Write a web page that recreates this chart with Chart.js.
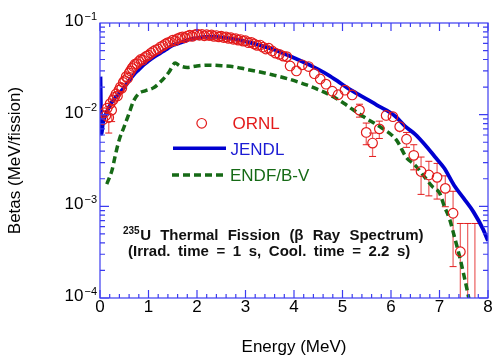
<!DOCTYPE html>
<html>
<head>
<meta charset="utf-8">
<script src="https://cdn.jsdelivr.net/npm/chart.js@4.4.0/dist/chart.umd.min.js"></script>
<style>
  html, body { margin: 0; padding: 0; background: #fff; }
  #wrap { width: 494px; height: 356px; }
</style>
</head>
<body>
<div id="wrap"><canvas id="betaChart" width="494" height="356"></canvas></div>
<script>
// ORNL measurement: energy (MeV), betas (MeV/fission), 1 sigma
var ornlEnergy = [0.06, 0.09, 0.12, 0.15, 0.18, 0.21, 0.24, 0.27, 0.30, 0.33, 0.36, 0.39, 0.42, 0.45, 0.48, 0.51, 0.54, 0.57, 0.60, 0.63,
  0.66, 0.69, 0.72, 0.76, 0.80, 0.84, 0.88, 0.92, 0.96, 1.00, 1.05, 1.10, 1.15, 1.20, 1.25, 1.30, 1.35, 1.40, 1.45, 1.50,
  1.55, 1.60, 1.65, 1.70, 1.75, 1.80, 1.85, 1.90, 1.95, 2.00, 2.05, 2.10, 2.15, 2.20, 2.25, 2.30, 2.35, 2.40, 2.45, 2.50,
  2.55, 2.60, 2.65, 2.70, 2.75, 2.80, 2.85, 2.90, 2.95, 3.00, 3.06, 3.12, 3.18, 3.24, 3.30, 3.36, 3.42, 3.48, 3.55, 3.62,
  3.70, 3.78, 3.85, 3.92, 4.05, 4.17, 4.30, 4.42, 4.54, 4.66, 4.79, 4.91, 5.05, 5.20, 5.35, 5.49, 5.62, 5.76, 5.90, 6.04,
  6.18, 6.32, 6.47, 6.62, 6.78, 6.95, 7.12, 7.28, 7.43, 7.58, 7.73];
var ornlValue = [0.0088, 0.0105, 0.0098, 0.0118, 0.0093, 0.0132, 0.0112, 0.0145, 0.0155, 0.0168, 0.0160, 0.0185, 0.0200, 0.0195, 0.0225, 0.0235, 0.0260, 0.0250, 0.0285, 0.0300,
  0.0320, 0.0335, 0.0355, 0.0360, 0.0380, 0.0400, 0.0395, 0.0420, 0.0435, 0.0445, 0.0470, 0.0490, 0.0510, 0.0520, 0.0550, 0.0565, 0.0590, 0.0610, 0.0620, 0.0650,
  0.0640, 0.0675, 0.0690, 0.0705, 0.0690, 0.0720, 0.0735, 0.0715, 0.0740, 0.0755, 0.0735, 0.0750, 0.0725, 0.0745, 0.0730, 0.0740, 0.0715, 0.0730, 0.0705, 0.0720,
  0.0695, 0.0705, 0.0680, 0.0690, 0.0665, 0.0675, 0.0650, 0.0660, 0.0635, 0.0640, 0.0610, 0.0615, 0.0590, 0.0570, 0.0575, 0.0545, 0.0520, 0.0530, 0.0495, 0.0470,
  0.0455, 0.0435, 0.0430, 0.0340, 0.0300, 0.0350, 0.0335, 0.0280, 0.0245, 0.0215, 0.0180, 0.0165, 0.0185, 0.0164, 0.0112, 0.0064, 0.0049, 0.0070, 0.0098, 0.0095,
  0.0074, 0.0054, 0.0036, 0.0024, 0.0022, 0.00207, 0.00157, 0.00084, 0.00032, 0.00005, 0.00004];
var ornlError = [0.0008, 0.0010, 0.0012, 0.0012, 0.0030, 0.0012, 0.0028, 0.0012, 0.0012, 0.0012, 0.0012, 0.0012, 0.0012, 0.0012, 0.0012, 0.0012, 0.0012, 0.0012, 0.0012, 0.0012,
  0.0012, 0.0012, 0.0012, 0.0012, 0.0012, 0.0012, 0.0012, 0.0012, 0.0012, 0.0012, 0.0012, 0.0012, 0.0012, 0.0012, 0.0012, 0.0012, 0.0012, 0.0012, 0.0012, 0.0012,
  0.0012, 0.0012, 0.0012, 0.0012, 0.0012, 0.0012, 0.0012, 0.0012, 0.0012, 0.0012, 0.0012, 0.0012, 0.0012, 0.0012, 0.0012, 0.0012, 0.0012, 0.0012, 0.0012, 0.0012,
  0.0012, 0.0012, 0.0012, 0.0012, 0.0012, 0.0012, 0.0012, 0.0012, 0.0012, 0.0012, 0.0012, 0.0012, 0.0012, 0.0012, 0.0012, 0.0012, 0.0012, 0.0012, 0.0012, 0.0012,
  0.0012, 0.0012, 0.0015, 0.0020, 0.0020, 0.0018, 0.0018, 0.0018, 0.0017, 0.0016, 0.0015, 0.0015, 0.0016, 0.0016, 0.0018, 0.0017, 0.0014, 0.0015, 0.0012, 0.0012,
  0.0010, 0.0010, 0.0011, 0.00105, 0.0009, 0.00087, 0.00058, 0.00062, 0.00033, 0.0006, 0.00061];

// JENDL summation
var jendlEnergy = [0.01, 0.03, 0.06, 0.10, 0.20, 0.30, 0.40, 0.50, 0.60, 0.70, 0.80, 0.90, 1.00, 1.10, 1.20, 1.30, 1.40, 1.50, 1.60, 1.70,
  1.80, 1.90, 2.00, 2.10, 2.20, 2.30, 2.40, 2.50, 2.70, 2.90, 3.10, 3.30, 3.50, 3.70, 3.90, 4.10, 4.30, 4.50, 4.70, 4.90,
  5.10, 5.30, 5.50, 5.70, 5.90, 6.10, 6.30, 6.50, 6.70, 6.90, 7.10, 7.30, 7.50, 7.70, 7.90, 8.00];
var jendlValue = [0.026, 0.0062, 0.0080, 0.0095, 0.0125, 0.0150, 0.0172, 0.0198, 0.0235, 0.0275, 0.0310, 0.0350, 0.0385, 0.0420, 0.0455, 0.0490, 0.0530, 0.0570, 0.0595, 0.0620,
  0.0650, 0.0670, 0.0685, 0.0700, 0.0705, 0.0708, 0.0705, 0.0698, 0.0675, 0.0648, 0.0610, 0.0570, 0.0530, 0.0487, 0.0440, 0.0395, 0.0352, 0.0312, 0.0272, 0.0232,
  0.0196, 0.0170, 0.0148, 0.0128, 0.0112, 0.0095, 0.0074, 0.0061, 0.0047, 0.0035, 0.0026, 0.0017, 0.00122, 0.00087, 0.00056, 0.00042];

// ENDF/B-V summation
var endfEnergy = [0.14, 0.20, 0.25, 0.30, 0.35, 0.40, 0.49, 0.59, 0.69, 0.80, 0.93, 1.10, 1.28, 1.42, 1.55, 1.65, 1.80, 1.96, 2.20, 2.51,
  2.75, 3.02, 3.30, 3.57, 3.90, 4.26, 4.55, 4.81, 5.02, 5.22, 5.49, 5.77, 6.11, 6.32, 6.50, 6.66, 6.85, 7.00, 7.10, 7.21,
  7.31, 7.41, 7.50, 7.58, 7.66];
var endfValue = [0.00175, 0.0021, 0.0025, 0.0033, 0.0043, 0.0054, 0.0072, 0.0100, 0.0140, 0.0170, 0.0182, 0.0196, 0.0237, 0.0290, 0.0365, 0.0340, 0.0328, 0.0338, 0.0347, 0.0342,
  0.0334, 0.0312, 0.0292, 0.0271, 0.0244, 0.0211, 0.0183, 0.0157, 0.0134, 0.0113, 0.0091, 0.0074, 0.0053, 0.0034, 0.0028, 0.0022, 0.00165, 0.0014, 0.0010, 0.00072,
  0.00046, 0.00029, 0.00018, 0.000115, 0.00007];

var xTicks = [0, 1, 2, 3, 4, 5, 6, 7, 8];
var yTicks = [1e-4, 1e-3, 1e-2, 1e-1];
var yTickExp = ['\u22124', '\u22123', '\u22122', '\u22121'];

var RED = '#e31b1b', BLUE = '#0000d0', GREEN = '#166a16', AXIS = '#3c3cf0';
var FONT = "'Liberation Sans', Arial, sans-serif";
var R = 4.8;

function toPoints(xs, ys) {
  return xs.map(function (x, i) { return { x: x, y: ys[i] }; });
}

var decorations = {
  id: 'decorations',
  beforeDatasetsDraw: function (chart) {
    var ctx = chart.ctx, ca = chart.chartArea, xs = chart.scales.x, ys = chart.scales.y;
    ctx.save();
    ctx.beginPath();
    ctx.rect(ca.left, ca.top, ca.right - ca.left, ca.bottom - ca.top);
    ctx.clip();
    for (var i = 0; i < ornlEnergy.length; i++) {
      var v = ornlValue[i], s = ornlError[i];
      var px = xs.getPixelForValue(ornlEnergy[i]);
      var py = ys.getPixelForValue(v);
      var yHi = ys.getPixelForValue(v + s);
      var yLo = v - s > 0 ? ys.getPixelForValue(v - s) : ca.bottom + 20;
      ctx.strokeStyle = 'rgba(232,70,70,0.8)';
      ctx.lineWidth = 1.3;
      ctx.beginPath();
      if (py - R > yHi) { ctx.moveTo(px, yHi); ctx.lineTo(px, Math.min(py - R, ca.bottom + 20)); }
      if (yLo > py + R) { ctx.moveTo(px, py + R); ctx.lineTo(px, yLo); }
      ctx.stroke();
      if (py - yHi > R + 1) {
        ctx.strokeStyle = RED;
        ctx.lineWidth = 1;
        ctx.beginPath();
        ctx.moveTo(px - 3.5, yHi); ctx.lineTo(px + 3.5, yHi);
        ctx.moveTo(px - 3.5, yLo); ctx.lineTo(px + 3.5, yLo);
        ctx.stroke();
      }
    }
    ctx.restore();
  },
  afterDraw: function (chart) {
    var ctx = chart.ctx, ca = chart.chartArea, xs = chart.scales.x, ys = chart.scales.y;
    ctx.save();
    // frame and inward ticks
    ctx.strokeStyle = AXIS;
    ctx.lineWidth = 1.2;
    ctx.strokeRect(ca.left, ca.top, ca.right - ca.left, ca.bottom - ca.top);
    ctx.beginPath();
    for (var k = 0; k <= 40; k++) {
      var px = xs.getPixelForValue(k / 5);
      var len = k % 5 === 0 ? 8 : 4;
      ctx.moveTo(px, ca.bottom); ctx.lineTo(px, ca.bottom - len);
      ctx.moveTo(px, ca.top); ctx.lineTo(px, ca.top + len);
    }
    for (var d = 0; d < yTicks.length - 1; d++) {
      for (var m = 1; m <= 9; m++) {
        var py = ys.getPixelForValue(yTicks[d] * m);
        var l = m === 1 ? 9 : 5;
        ctx.moveTo(ca.left, py); ctx.lineTo(ca.left + l, py);
        ctx.moveTo(ca.right, py); ctx.lineTo(ca.right - l, py);
      }
    }
    ctx.stroke();

    // y tick labels 10^n
    ctx.fillStyle = '#000';
    ctx.textBaseline = 'alphabetic';
    yTicks.forEach(function (t, i) {
      var py = ys.getPixelForValue(t);
      ctx.font = '11px ' + FONT;
      var sw = ctx.measureText(yTickExp[i]).width;
      var sx = ca.left - 3 - sw;
      ctx.textAlign = 'left';
      ctx.fillText(yTickExp[i], sx, py - 3.5);
      ctx.font = '17px ' + FONT;
      ctx.textAlign = 'right';
      ctx.fillText('10', sx - 1, py + 3);
    });

    // legend
    ctx.textAlign = 'left';
    ctx.font = '17px ' + FONT;
    ctx.strokeStyle = RED; ctx.lineWidth = 1.2;
    ctx.beginPath(); ctx.arc(201.7, 123.3, R, 0, Math.PI * 2); ctx.stroke();
    ctx.fillStyle = RED; ctx.fillText('ORNL', 232.5, 129);
    ctx.strokeStyle = BLUE; ctx.lineWidth = 3.5;
    ctx.beginPath(); ctx.moveTo(173, 148.3); ctx.lineTo(226, 148.3); ctx.stroke();
    ctx.fillStyle = '#1c1cd4'; ctx.fillText('JENDL', 230.5, 154.5);
    ctx.strokeStyle = GREEN; ctx.setLineDash([7, 4]);
    ctx.beginPath(); ctx.moveTo(172, 175); ctx.lineTo(226, 175); ctx.stroke();
    ctx.setLineDash([]);
    ctx.fillStyle = GREEN; ctx.fillText('ENDF/B-V', 230, 180.5);

    // annotation
    ctx.fillStyle = '#111';
    ctx.font = 'bold 10px ' + FONT;
    ctx.fillText('235', 123, 233.5);
    var w = ctx.measureText('235').width;
    ctx.font = 'bold 15px ' + FONT;
    ctx.wordSpacing = '5px';
    ctx.fillText('U Thermal Fission (\u03b2 Ray Spectrum)', 123 + w + 0.5, 240);
    ctx.wordSpacing = '3.4px';
    ctx.fillText('(Irrad. time = 1 s, Cool. time = 2.2 s)', 128, 256);
    ctx.restore();
  }
};

new Chart(document.getElementById('betaChart'), {
  type: 'scatter',
  data: {
    datasets: [{
      label: 'ORNL',
      data: toPoints(ornlEnergy, ornlValue),
      pointStyle: 'circle',
      pointRadius: R,
      borderColor: RED,
      backgroundColor: 'rgba(0,0,0,0)',
      borderWidth: 1.2,
      clip: 0
    }, {
      label: 'JENDL',
      data: toPoints(jendlEnergy, jendlValue),
      showLine: true,
      pointRadius: 0,
      borderColor: BLUE,
      borderWidth: 3.8,
      cubicInterpolationMode: 'monotone',
      clip: 0
    }, {
      label: 'ENDF/B-V',
      data: toPoints(endfEnergy, endfValue),
      showLine: true,
      pointRadius: 0,
      borderColor: GREEN,
      borderWidth: 3.5,
      borderDash: [7, 4],
      cubicInterpolationMode: 'monotone',
      clip: 0
    }]
  },
  options: {
    responsive: false,
    animation: false,
    events: [],
    layout: { padding: { top: 23, right: 6, left: 0, bottom: 0 } },
    plugins: { legend: { display: false }, tooltip: { enabled: false } },
    scales: {
      x: {
        type: 'linear', min: 0, max: 8,
        afterFit: function (s) { s.height = 58; },
        afterBuildTicks: function (s) { s.ticks = xTicks.map(function (v) { return { value: v }; }); },
        grid: { display: false, drawTicks: false },
        border: { display: false },
        ticks: { color: '#000', padding: 1, maxRotation: 0, autoSkip: false, font: { family: FONT, size: 17, lineHeight: 1 } },
        title: { display: true, text: 'Energy (MeV)', color: '#000', padding: { top: 0, bottom: -2 }, font: { family: FONT, size: 17 } }
      },
      y: {
        type: 'logarithmic', min: 1e-4, max: 1e-1,
        afterFit: function (s) { s.width = 100; },
        grid: { display: false, drawTicks: false },
        border: { display: false },
        ticks: { display: false },
        title: { display: true, text: 'Betas (MeV/fission)', color: '#000', padding: { top: 5, bottom: 0 }, font: { family: FONT, size: 17 } }
      }
    }
  },
  plugins: [decorations]
});
</script>
</body>
</html>
